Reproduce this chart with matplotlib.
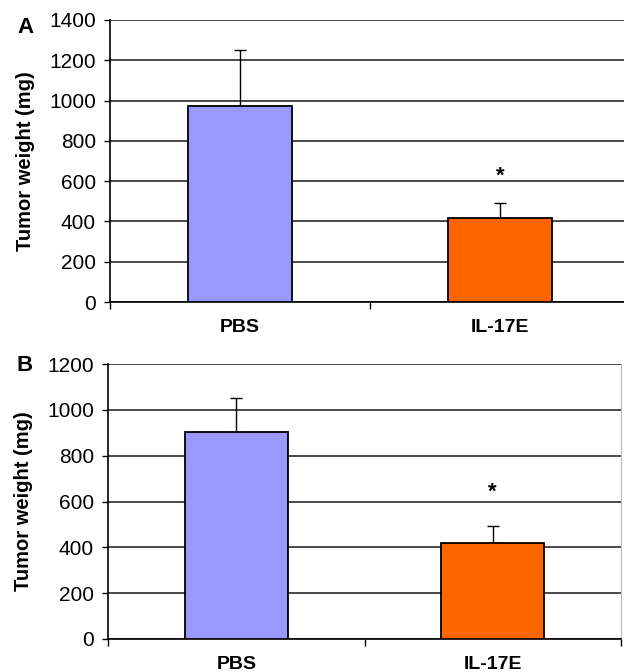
import matplotlib
matplotlib.use("Agg")
import matplotlib.pyplot as plt
import numpy as np

# ── Data ───────────────────────────────────────────────────────────────────────
groups = ["PBS", "IL-17E"]
weight_a = [975, 415]
err_a = [275, 77]
weight_b = [902, 420]
err_b = [148, 72]
star_a = 652
star_b = 665

COLORS = ["#9999FF", "#FF6600"]
plt.rcParams["font.family"] = "Liberation Sans"


def panel(ax, vals, errs, ymax, star_y, letter, letter_y):
    x = np.arange(len(groups))
    ax.bar(x, vals, 0.4, color=COLORS, edgecolor="black", linewidth=1.3, zorder=3)
    ax.errorbar(x, vals, yerr=[np.zeros(len(errs)), errs], fmt="none",
                ecolor="black", elinewidth=1.0, capsize=4, capthick=1.0, zorder=2)
    # nudge the asterisk glyph down so its centre sits on star_y
    ax.annotate("*", (1, star_y), xytext=(0, -4), textcoords="offset points",
                ha="center", va="center", fontsize=16, fontweight="bold")

    ax.set_xlim(-0.5, 1.5)
    ax.set_ylim(0, ymax)
    ax.set_yticks(np.arange(0, ymax + 1, 200))
    ax.yaxis.grid(True, color="#2a2a2a", linewidth=1.2, zorder=0)
    ax.set_axisbelow(True)
    for s in ("top", "right"):
        ax.spines[s].set_visible(False)
    ax.spines["left"].set_linewidth(1.2)
    ax.spines["bottom"].set_linewidth(1.2)
    ax.tick_params(axis="y", labelsize=15, length=4, width=1, pad=6)

    ax.set_xticks(x)
    ax.set_xticklabels(groups, fontsize=14, fontweight="bold")
    ax.set_xticks([-0.5, 0.5, 1.5], minor=True)
    ax.tick_params(axis="x", which="major", length=0, pad=12)
    ax.tick_params(axis="x", which="minor", length=5, width=1)

    ax.set_ylabel("Tumor weight (mg)", fontsize=14.5, fontweight="bold", labelpad=10)
    ax.text(-0.162, letter_y, letter, transform=ax.transAxes, ha="center", va="center",
            fontsize=16, fontweight="bold")


fig = plt.figure(figsize=(6.24, 6.72), dpi=100)
ax_a = fig.add_axes([110 / 624, 1 - 302 / 672, 520 / 624, 282 / 672])
ax_b = fig.add_axes([108 / 624, 1 - 639 / 672, 513 / 624, 275 / 672])

panel(ax_a, weight_a, err_a, 1400, star_a, "A", 0.975)
panel(ax_b, weight_b, err_b, 1200, star_b, "B", 0.995)
ax_b.spines["right"].set_visible(True)
ax_b.spines["right"].set_color("#bbbbbb")

fig.savefig("out.png", dpi=100)
